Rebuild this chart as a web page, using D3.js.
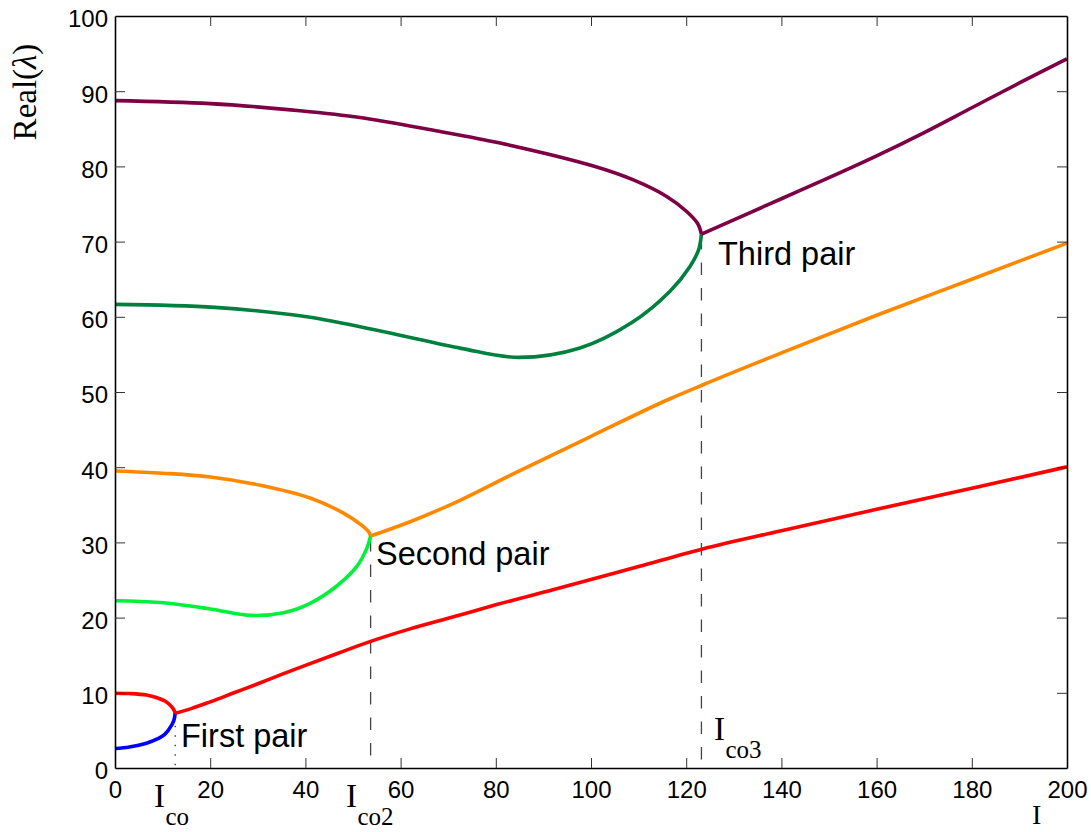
<!DOCTYPE html>
<html>
<head>
<meta charset="utf-8">
<script src="https://cdn.jsdelivr.net/npm/d3@7/dist/d3.min.js"></script>
<style>
  html, body { margin: 0; padding: 0; background: #fff; }
  svg { display: block; }
</style>
</head>
<body>
<svg id="chart" width="1091" height="832"></svg>
<script>
// ---------------- data ----------------
const xTicks = [0, 20, 40, 60, 80, 100, 120, 140, 160, 180, 200];
const yTicks = [0, 10, 20, 30, 40, 50, 60, 70, 80, 90, 100];

// First pair
const firstUpper = [[0,9.95],[3,9.9],[6.6,9.7],[9,9.3],[10.5,8.9],[11.9,8.15],[12.4,7.7],[12.65,7.27]];
const firstLower = [[0,2.6],[3,2.8],[6.6,3.3],[9,3.9],[10.5,4.5],[11.9,5.7],[12.4,6.4],[12.65,7.27]];
const firstMerged = [[12.65,7.27],[16,7.9],[20,8.8],[25,10.0],[30,11.2],[35,12.45],[40,13.65],[47,15.3],[54,16.9],[62,18.5],[70,19.9],[80,21.7],[92,23.7],[110,26.8],[123.3,29.1],[140,31.55],[160,34.4],[180,37.2],[200,40.05]];

// Second pair
const secondUpper = [[0,39.5],[10,39.2],[20,38.7],[30.5,37.6],[41,35.9],[48,33.9],[51.8,32.3],[53.3,31.4],[53.7,30.85]];
const secondLower = [[0,22.25],[9.45,22.0],[20,21.15],[28.4,20.3],[35.4,20.65],[41,21.9],[46.6,24.2],[50.8,26.8],[52.9,29.2],[53.7,30.85]];
const secondMerged = [[53.7,30.85],[62,32.75],[72.5,35.6],[83,38.9],[100,44.1],[116.6,49.1],[123.3,50.9],[140,55.2],[160,60.2],[180,65.0],[200,69.8]];

// Third pair
const thirdUpper = [[0,88.75],[20,88.35],[38.9,87.4],[51.5,86.5],[66.9,84.8],[80.9,83.1],[100.5,80.05],[108.9,78.2],[115.9,76.0],[120.1,74.0],[122.4,72.4],[123.2,71.0]];
const thirdLower = [[0,61.65],[21,61.25],[40.3,60.0],[56.5,58.0],[72.7,55.8],[84.8,54.6],[97.7,55.85],[108.5,59.2],[116.6,63.4],[120.8,66.7],[122.6,68.9],[123.2,71.0]];
const thirdMerged = [[123.2,71.0],[130,72.9],[140,75.7],[150,78.5],[160,81.4],[170,84.5],[180,87.8],[190,91.1],[200,94.3]];

// crossover markers
const crossI = [12.65, 53.7, 123.2];
const crossVal = [7.27, 30.85, 71.0];
const pairLabels = ["First pair", "Second pair", "Third pair"];
const crossSubs = ["co", "co2", "co3"];

// ---------------- layout ----------------
const svg = d3.select("#chart");
const x = d3.scaleLinear().domain([0, 200]).range([115, 1067]);
const y = d3.scaleLinear().domain([0, 100]).range([768, 16]);

const branchLine = d3.line()
  .x(d => x(d[0]))
  .y(d => y(d[1]))
  .curve(d3.curveCatmullRom.alpha(0.5));
const mergedLine = d3.line()
  .x(d => x(d[0]))
  .y(d => y(d[1]))
  .curve(d3.curveMonotoneX);

// crossover vertical lines
svg.append("g").selectAll("line")
  .data(crossI)
  .join("line")
  .attr("x1", d => x(d)).attr("x2", d => x(d))
  .attr("y1", (d, i) => y(crossVal[i]) + 3)
  .attr("y2", y(0))
  .attr("stroke", "#444")
  .attr("stroke-width", (d, i) => i === 0 ? 1.4 : 1.3)
  .attr("stroke-dasharray", (d, i) => i === 0 ? "1.5,8" : "12.5,13");

// curves
const series = [
  {d: firstUpper, c: "#ff0000", m: false},
  {d: firstLower, c: "#0000ff", m: false},
  {d: firstMerged, c: "#ff0000", m: true},
  {d: secondUpper, c: "#ff8800", m: false},
  {d: secondLower, c: "#00f03c", m: false},
  {d: secondMerged, c: "#ff8800", m: true},
  {d: thirdUpper, c: "#7e0044", m: false},
  {d: thirdLower, c: "#00803f", m: false},
  {d: thirdMerged, c: "#7e0044", m: true}
];
svg.append("g").selectAll("path")
  .data(series)
  .join("path")
  .attr("d", s => (s.m ? mergedLine : branchLine)(s.d))
  .attr("fill", "none")
  .attr("stroke", s => s.c)
  .attr("stroke-width", 3.6)
  .attr("stroke-linecap", "butt")
  .attr("stroke-linejoin", "round");

// axes (ticks inward)
const gx = svg.append("g").attr("transform", `translate(0,${y(0)})`)
  .call(d3.axisBottom(x).tickValues(xTicks).tickSizeInner(-10).tickSizeOuter(0).tickPadding(13));
const gxt = svg.append("g").attr("transform", `translate(0,${y(100)})`)
  .call(d3.axisTop(x).tickValues(xTicks).tickSizeInner(-10).tickSizeOuter(0).tickFormat(""));
const gy = svg.append("g").attr("transform", `translate(${x(0)},0)`)
  .call(d3.axisLeft(y).tickValues(yTicks).tickSizeInner(-10).tickSizeOuter(0).tickPadding(7));
const gyr = svg.append("g").attr("transform", `translate(${x(200)},0)`)
  .call(d3.axisRight(y).tickValues(yTicks).tickSizeInner(-10).tickSizeOuter(0).tickFormat(""));

[gx, gxt, gy, gyr].forEach(g => {
  g.select(".domain").attr("stroke", "#000").attr("stroke-width", 1.6);
  g.selectAll(".tick line").attr("stroke", "#333").attr("stroke-width", 1);
  g.selectAll(".tick text")
    .attr("fill", "#000")
    .style("font-family", "'Liberation Sans', Arial, Helvetica, sans-serif")
    .style("font-size", "24px");
});
gy.selectAll(".tick text").attr("dy", "0.45em");
// hide ticks exactly on the frame corners
[gx, gxt].forEach(g => g.selectAll(".tick line").filter(d => d === 0 || d === 200).remove());
[gy, gyr].forEach(g => g.selectAll(".tick line").filter(d => d === 0 || d === 100).remove());

// pair labels
const labelPos = [[181, 747], [376, 565], [718, 265]];
svg.append("g").selectAll("text")
  .data(pairLabels)
  .join("text")
  .attr("x", (d, i) => labelPos[i][0])
  .attr("y", (d, i) => labelPos[i][1])
  .attr("fill", "#000")
  .style("font-family", "'Liberation Sans', Arial, Helvetica, sans-serif")
  .style("font-size", "32.5px")
  .text(d => d);

// crossover labels I_co
const subPos = [[154, 807], [346, 807], [714, 740]];
const serif = "'Liberation Serif', 'Times New Roman', Times, serif";
subPos.forEach((p, i) => {
  svg.append("text").attr("x", p[0]).attr("y", p[1])
    .style("font-family", serif).style("font-size", "33px").attr("fill", "#000").text("I");
  svg.append("text").attr("x", p[0] + 11.5).attr("y", p[1] + 18)
    .style("font-family", serif).style("font-size", "25px").attr("fill", "#000").text(crossSubs[i]);
});

// x-axis title
svg.append("text").attr("x", 1032).attr("y", 824)
  .style("font-family", serif).style("font-size", "28px").attr("fill", "#000").text("I");

// y-axis title
const yt = svg.append("text")
  .attr("transform", "translate(36,92) rotate(-90)")
  .attr("text-anchor", "middle")
  .style("font-family", serif).style("font-size", "33px").attr("fill", "#000");
yt.append("tspan").text("Real(");
yt.append("tspan").style("font-style", "italic").text("λ");
yt.append("tspan").text(")");
</script>
</body>
</html>
